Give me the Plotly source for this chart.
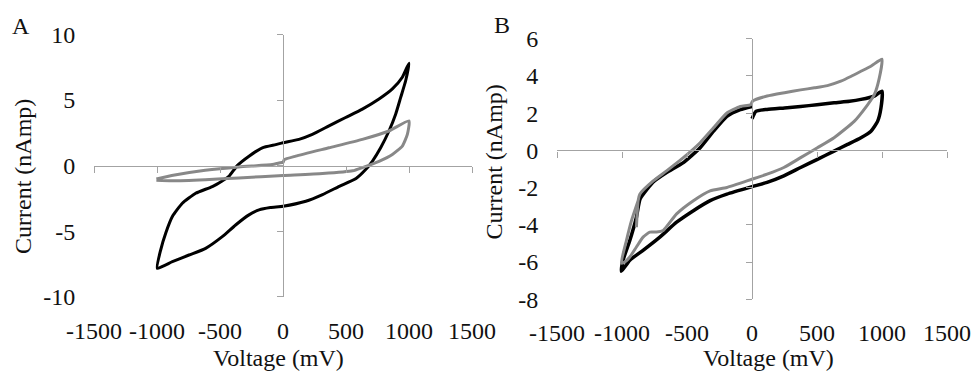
import plotly.graph_objects as go

# ---------------- data ----------------
# Panel A, black loop
a_black_v = [-998, -971, -931, -878, -799, -693, -561, -480, -429, -363, -270, -164, -58, 0,
             127, 233, 365, 497, 630, 762, 868, 947, 1000,
             974, 934, 894, 841, 775, 709, 656, 580, 447, 314, 181, 0, -100, -190, -270, -376,
             -482, -614, -746, -878, -998]
a_black_i = [-7.83, -6.44, -5.16, -3.89, -2.87, -2.11, -1.6, -1.15, -0.82, 0.0, 0.72, 1.36, 1.6, 1.74,
             2.0, 2.38, 3.03, 3.67, 4.31, 5.08, 5.85, 6.74, 7.82,
             6.49, 5.2, 3.92, 2.64, 1.36, 0.33, -0.3, -0.98, -1.58, -2.21, -2.72, -3.1, -3.2, -3.38, -3.76, -4.53,
             -5.42, -6.31, -6.82, -7.33, -7.83]
# Panel A, grey loop
a_grey_v = [-1005, -883, -617, -351, -85, -32, 0, 10, 101, 365, 630, 841, 1000,
            987, 947, 868, 762, 630, 553, 314, 0, -351, -617, -883, -1005]
a_grey_i = [-1.02, -0.76, -0.36, -0.1, 0.08, 0.2, 0.25, 0.45, 0.72, 1.36, 2.0, 2.64, 3.41,
            2.38, 1.49, 0.85, 0.33, -0.15, -0.4, -0.61, -0.76, -0.94, -1.07, -1.15, -1.12]
# Panel B, black loop
b_black_v = [0, 30, 116, 250, 374, 500, 631, 750, 838, 941, 1000,
             992, 966, 915, 838, 735, 631, 503, 374, 245, 116, 0, -193, -322, -451, -580, -709, -838, -940, -1005,
             -992, -940, -889, -860, -760, -657, -528, -399, -296, -193, -90, 0]
b_black_i = [1.7, 2.1, 2.2, 2.28, 2.36, 2.45, 2.56, 2.64, 2.74, 2.92, 3.18,
             2.28, 1.56, 1.03, 0.68, 0.32, -0.04, -0.48, -0.92, -1.37, -1.72, -1.95, -2.35, -2.7, -3.24, -3.86, -4.66, -5.37, -5.9, -6.5,
             -5.9, -4.84, -3.59, -2.6, -1.7, -1.19, -0.66, 0.14, 1.03, 1.83, 2.19, 2.36]
# Panel B, grey loop
b_grey_v = [-889, -876, -863, -760, -657, -528, -399, -296, -193, -90, -10, 5,
            116, 250, 374, 480, 580, 683, 760, 838, 920, 1000,
            979, 941, 889, 786, 631, 503, 374, 245, 116, 0, -193, -322, -451, -580, -683, -734, -786, -838,
            -889, -940, -979, -1005, -966, -927, -876]
b_grey_i = [-4.13, -2.7, -2.35, -1.64, -1.1, -0.39, 0.41, 1.21, 2.01, 2.36, 2.45, 2.65,
            2.92, 3.1, 3.25, 3.36, 3.48, 3.72, 3.97, 4.25, 4.55, 4.9,
            3.88, 2.99, 2.45, 1.56, 0.68, 0.14, -0.39, -0.92, -1.28, -1.55, -1.99, -2.17, -2.7, -3.41, -4.3, -4.39, -4.39, -4.66,
            -5.19, -5.73, -6.0, -6.05, -4.84, -3.77, -2.7]

x_range = [-1500, 1500]
x_ticks = [-1500, -1000, -500, 0, 500, 1000, 1500]
x_ticktext = ["-1500", "-1000", "-500", "0", "500", "1000", "1500"]
a_y_range = [-10, 10]
a_y_ticks = [-10, -5, 0, 5, 10]
a_y_ticktext = ["-10", "-5", "0", "5", "10"]
b_y_range = [-8, 6]
b_y_ticks = [-8, -6, -4, -2, 0, 2, 4, 6]
b_y_ticktext = ["-8", "-6", "-4", "-2", "0", "2", "4", "6"]
x_title = "Voltage (mV)"
y_title = "Current (nAmp)"
panel_labels = ["A", "B"]

# ---------------- layout geometry ----------------
W, H = 972, 377
a_xdom = [94 / W, 472 / W]
a_ydom = [1 - 296.7 / H, 1 - 34.5 / H]
b_xdom = [557 / W, 947 / W]
b_ydom = [1 - 299.3 / H, 1 - 38.7 / H]


def zero_pos(dom, rng):
    return dom[0] + (0 - rng[0]) / (rng[1] - rng[0]) * (dom[1] - dom[0])


FONT = "Liberation Serif, Times New Roman, serif"
TXT = "#111111"
AX = "#a3a3a3"
BLACK = "#000000"
GREY = "#888888"
FS = 24

fig = go.Figure()


def loop(v, i, color, width, xa, ya):
    return go.Scatter(x=v, y=i, mode="lines",
                      line=dict(color=color, width=width, shape="spline", smoothing=0.5),
                      xaxis=xa, yaxis=ya, showlegend=False)


fig.add_trace(loop(a_black_v, a_black_i, BLACK, 3, "x", "y"))
fig.add_trace(loop(a_grey_v, a_grey_i, GREY, 3, "x", "y"))
fig.add_trace(loop(b_black_v, b_black_i, BLACK, 3.5, "x2", "y2"))
fig.add_trace(loop(b_grey_v, b_grey_i, GREY, 3, "x2", "y2"))
# empty traces so the crossing axes are drawn
fig.add_trace(go.Scatter(x=[], y=[], xaxis="x3", yaxis="y3", showlegend=False, hoverinfo="skip"))
fig.add_trace(go.Scatter(x=[], y=[], xaxis="x4", yaxis="y4", showlegend=False, hoverinfo="skip"))

tickfont = dict(family=FONT, size=FS, color=TXT)

label_x = dict(showline=False, showgrid=False, zeroline=False, ticks="outside", ticklen=12,
               tickcolor="rgba(0,0,0,0)", tickfont=tickfont, range=x_range, tickmode="array",
               tickvals=x_ticks, ticktext=x_ticktext, tickangle=0, automargin=False)
label_y = dict(showline=False, showgrid=False, zeroline=False, ticks="outside", ticklen=13,
               tickcolor="rgba(0,0,0,0)", tickfont=tickfont, tickmode="array", tickangle=0,
               automargin=False)
line_x = dict(showline=True, linecolor=AX, linewidth=1.3, ticks="outside", ticklen=6, tickcolor=AX,
              tickwidth=1.3, showticklabels=False, showgrid=False, zeroline=False,
              range=x_range, tickmode="array", tickvals=x_ticks, anchor="free", automargin=False)
line_y = dict(showline=True, linecolor=AX, linewidth=1.3, ticks="outside", ticklen=6, tickcolor=AX,
              tickwidth=1.3, showticklabels=False, showgrid=False, zeroline=False, anchor="free",
              tickmode="array", automargin=False)

fig.update_layout(
    width=W, height=H, margin=dict(l=0, r=0, t=0, b=0, autoexpand=False),
    paper_bgcolor="white", plot_bgcolor="white",
    xaxis=dict(domain=a_xdom, anchor="y", **label_x),
    yaxis=dict(domain=a_ydom, anchor="x", range=a_y_range, tickvals=a_y_ticks, ticktext=a_y_ticktext, **label_y),
    xaxis2=dict(domain=b_xdom, anchor="y2", **label_x),
    yaxis2=dict(domain=b_ydom, anchor="x2", range=b_y_range, tickvals=b_y_ticks, ticktext=b_y_ticktext, **label_y),
    xaxis3=dict(overlaying="x", position=zero_pos(a_ydom, a_y_range), **line_x),
    yaxis3=dict(overlaying="y", position=zero_pos(a_xdom, x_range), range=a_y_range, tickvals=a_y_ticks, **line_y),
    xaxis4=dict(overlaying="x2", position=zero_pos(b_ydom, b_y_range), **line_x),
    yaxis4=dict(overlaying="y2", position=zero_pos(b_xdom, x_range), range=b_y_range, tickvals=b_y_ticks, **line_y),
)

ann_font = dict(family=FONT, size=FS, color=TXT)
annotations = [
    dict(text=panel_labels[0], x=21 / W, y=1 - 26 / H),
    dict(text=panel_labels[1], x=502 / W, y=1 - 24.5 / H),
    dict(text=x_title, x=278 / W, y=1 - 358 / H),
    dict(text=x_title, x=768.5 / W, y=1 - 358 / H),
    dict(text=y_title, x=23 / W, y=1 - 177 / H, textangle=-90),
    dict(text=y_title, x=494 / W, y=1 - 161.5 / H, textangle=-90),
]
for a in annotations:
    fig.add_annotation(xref="paper", yref="paper", showarrow=False, xanchor="center", yanchor="middle",
                       font=ann_font, **a)

fig.write_html("out.html")
